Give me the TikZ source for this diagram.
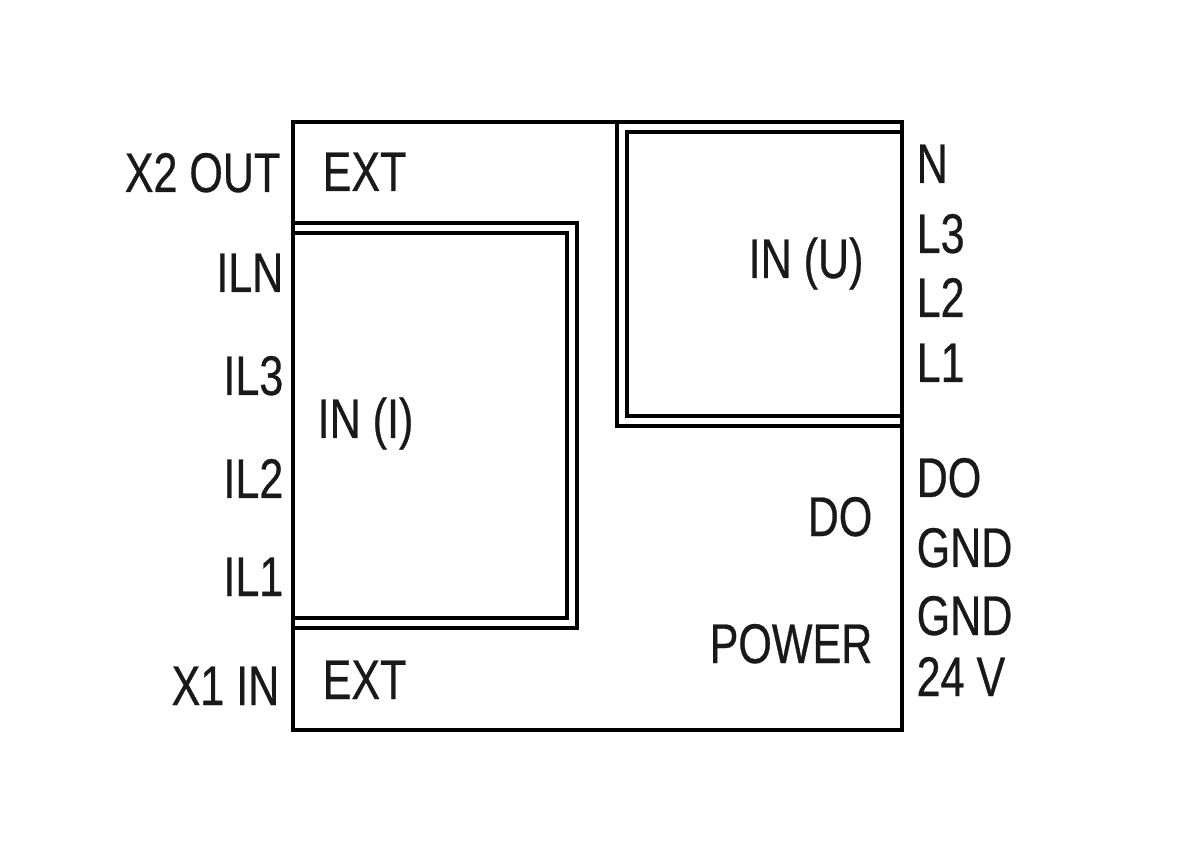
\documentclass[tikz,border=0pt]{standalone}
\usepackage{fontspec}
\setmainfont[FakeStretch=0.77,FakeBold=0.5]{Liberation Sans}
\begin{document}
\begin{tikzpicture}[x=0.01cm,y=-0.01cm,
  ln/.style={line width=1.05pt,line join=miter},
  lbl/.style={inner sep=0pt,text=black!90,font=\fontsize{15.9}{19}\selectfont},
  lw/.style={lbl,anchor=base west},
  le/.style={lbl,anchor=base east}]
\useasboundingbox (0,0) rectangle (1197,852);
% outer box
\draw[ln] (293,122) rectangle (902,730);
% IN (I) double frame
\draw[ln] (293,223) -- (577,223) -- (577,628) -- (293,628);
\draw[ln] (293,233) -- (567,233) -- (567,618) -- (293,618);
% IN (U) double frame
\draw[ln] (617,122) -- (617,426) -- (902,426);
\draw[ln] (902,132) -- (627,132) -- (627,416) -- (902,416);
% left labels
\node[le] (x2) at (281,192) {X2 OUT};
\node[le] (iln) at (284,292) {ILN};
\node[le] (il3) at (284,395) {IL3};
\node[le] (il2) at (284,498) {IL2};
\node[le] (il1) at (284,596) {IL1};
\node[le] (x1) at (280,705) {X1 IN};
% inner labels
\node[lw] (ext1) at (322,191) {EXT};
\node[lw] (ext2) at (322,699) {EXT};
\node[lw] (ini) at (317,438) {IN (I)};
\node[lw] (inu) at (748,278) {IN (U)};
\node[le] (doi) at (873,536) {DO};
\node[le] (pwr) at (873,663) {POWER};
% right labels
\node[lw] (n) at (916,183) {N};
\node[lw] (l3) at (916,253) {L3};
\node[lw] (l2) at (916,317) {L2};
\node[lw] (l1) at (916,382) {L1};
\node[lw] (do) at (916,497) {DO};
\node[lw] (gnd1) at (916,567) {GND};
\node[lw] (gnd2) at (916,635) {GND};
\node[lw] (v24) at (916,696) {24 V};
\end{tikzpicture}
\end{document}
